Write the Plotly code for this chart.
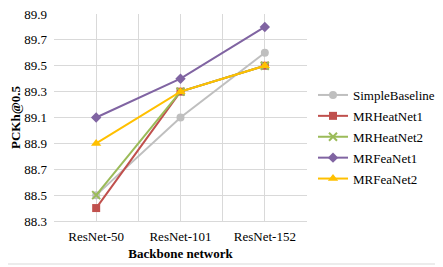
import plotly.graph_objects as go

categories = ["ResNet-50", "ResNet-101", "ResNet-152"]
simple_baseline = [88.5, 89.1, 89.6]
mrheatnet1 = [88.4, 89.3, 89.5]
mrheatnet2 = [88.5, 89.3, 89.5]
mrfeanet1 = [89.1, 89.4, 89.8]
mrfeanet2 = [88.9, 89.3, 89.5]
y_ticks = [88.3, 88.5, 88.7, 88.9, 89.1, 89.3, 89.5, 89.7, 89.9]

series = [
    ("SimpleBaseline", simple_baseline, "#BFBFBF", "circle", 8),
    ("MRHeatNet1", mrheatnet1, "#C0504D", "square", 8),
    ("MRHeatNet2", mrheatnet2, "#9BBB59", "x-thin", 8),
    ("MRFeaNet1", mrfeanet1, "#8064A2", "diamond", 8),
    ("MRFeaNet2", mrfeanet2, "#FFC000", "triangle-up", 9),
]

xs = list(range(len(categories)))
fig = go.Figure()
for i, (name, vals, color, sym, size) in enumerate(series):
    marker = dict(color=color, symbol=sym, size=size)
    if sym == "x-thin":
        marker["line"] = dict(color=color, width=2)
    fig.add_trace(go.Scatter(
        x=xs, y=vals, name=name, mode="lines+markers",
        line=dict(color=color, width=2), marker=marker,
        legendgroup=name,
    ))

# page has an 8px body margin; compensate so the plot lands where the reference has it
W, H = 435, 259
L, R, T, B = 46, 136, 6, 46
pw, ph = W - L - R, H - T - B

font_family = "Liberation Serif, Times New Roman, serif"
tfont = dict(family=font_family, size=13, color="#000000")
fig.update_layout(
    width=W, height=H,
    margin=dict(l=L, r=R, t=T, b=B, autoexpand=False),
    paper_bgcolor="white", plot_bgcolor="white",
    font=tfont,
    legend=dict(x=(305 - L) / pw, y=1 - (72 - T) / ph, xanchor="left", yanchor="top",
                font=tfont, traceorder="grouped", tracegroupgap=1, itemwidth=30),
    xaxis=dict(
        range=[-0.5, 2.5], tickmode="array", tickvals=xs, ticktext=categories,
        tickfont=tfont, ticklabelstandoff=3,
        showgrid=True, gridcolor="#D9D9D9", gridwidth=1, automargin=False,
        minor=dict(tickmode="array", tickvals=[-0.5, 0.5, 1.5, 2.5],
                   showgrid=True, gridcolor="#D9D9D9", gridwidth=1),
        zeroline=False, showline=True, linecolor="#D9D9D9", linewidth=1,
        ticks="", title=dict(text="<b>Backbone network</b>", standoff=6, font=tfont),
    ),
    yaxis=dict(
        range=[88.3, 89.9], tickmode="array", tickvals=y_ticks, tickfont=tfont,
        tickformat=".1f", showgrid=True, gridcolor="#D9D9D9", gridwidth=1,
        ticklabeloverflow="allow", ticklabelstandoff=6,
        zeroline=False, showline=False, ticks="", automargin=False,
        title=dict(text="<b>PCKh@0.5</b>", standoff=2, font=tfont),
    ),
    shapes=[
        dict(type="line", xref="paper", yref="paper",
             x0=(432 - L) / pw, x1=(432 - L) / pw, y0=(H - B - 256) / ph, y1=(H - B) / ph + 0.2,
             line=dict(color="#D9D9D9", width=1)),
        dict(type="line", xref="paper", yref="paper",
             x0=-L / pw, x1=(432 - L) / pw, y0=(H - B - 256) / ph, y1=(H - B - 256) / ph,
             line=dict(color="#D9D9D9", width=1)),
    ],
)

fig.write_html("out.html")
